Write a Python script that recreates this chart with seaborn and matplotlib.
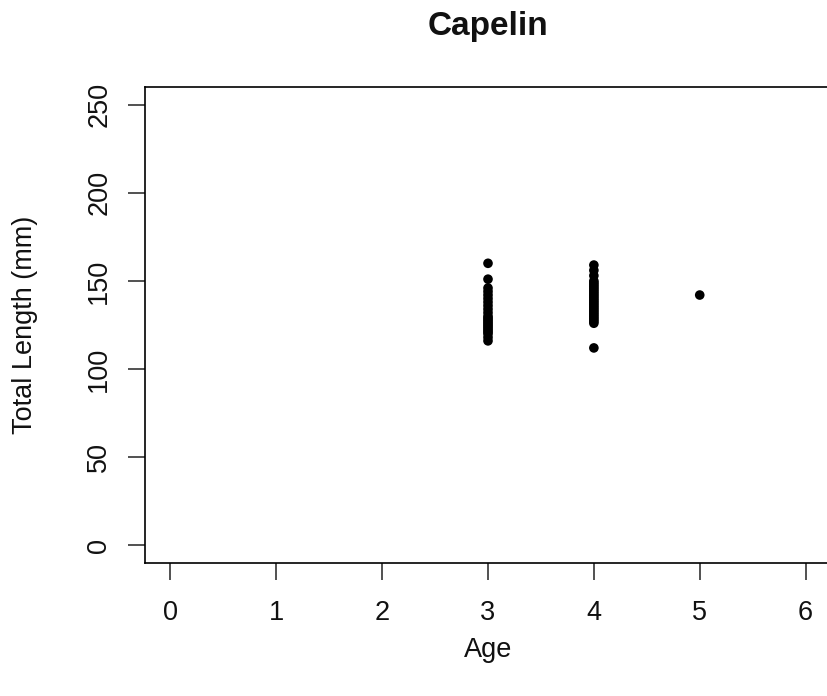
import matplotlib
matplotlib.use("Agg")
import matplotlib.pyplot as plt
import seaborn as sns
import pandas as pd

title = "Capelin"
x_label = "Age"
y_label = "Total Length (mm)"
x_ticks = [0, 1, 2, 3, 4, 5, 6]
y_ticks = [0, 50, 100, 150, 200, 250]

age3_lengths = [160, 151, 146, 144, 142, 140, 138, 136, 134, 132, 130, 129, 128,
                127, 126, 125, 124, 123, 122, 121, 120, 118, 116]
age4_lengths = [159, 156, 153, 150, 149, 148, 147, 146, 145, 144, 143, 142, 141,
                140, 139, 138, 137, 136, 135, 134, 133, 132, 131, 130, 129, 128,
                127, 126, 112]
age5_lengths = [142]

ages = [3] * len(age3_lengths) + [4] * len(age4_lengths) + [5] * len(age5_lengths)
lengths = age3_lengths + age4_lengths + age5_lengths
df = pd.DataFrame({"Age": ages, "Length": lengths})

sns.set_style("white")
plt.rcParams["font.family"] = ["Liberation Sans", "DejaVu Sans"]

W, H = 827, 696
fig = plt.figure(figsize=(W / 100, H / 100), dpi=100)
L, R, T, B = 145, 831, 87, 563
ax = fig.add_axes([L / W, (H - B) / H, (R - L) / W, (B - T) / H])

sns.scatterplot(data=df, x="Age", y="Length", ax=ax, color="black",
                s=48, edgecolor="none", linewidth=0, legend=False)

ax.set_xlim(-0.24, 6.24)
ax.set_ylim(-10, 260)
ax.set_xticks(x_ticks)
ax.set_yticks(y_ticks)
ax.set_xticklabels([str(t) for t in x_ticks])
ax.set_yticklabels([str(t) for t in y_ticks], rotation=90, va="center")

for sp in ["left", "top", "bottom", "right"]:
    ax.spines[sp].set_visible(True)
    ax.spines[sp].set_color("black")
    ax.spines[sp].set_linewidth(1.2)

fs = 19.5
ax.tick_params(axis="both", direction="out", length=12.5, width=1.2,
               color="#333333", labelsize=fs, labelcolor="#111111",
               bottom=True, left=True, top=False, right=False)
ax.tick_params(axis="x", pad=14)
ax.tick_params(axis="y", pad=11)

ax.set_xlabel(x_label, fontsize=fs, color="#111111")
ax.set_ylabel(y_label, fontsize=fs, color="#111111")
ax.xaxis.set_label_coords((488 - L) / (R - L), (B - 650) / (B - T))
ax.xaxis.label.set_va("center")
ax.yaxis.set_label_coords((25 - L) / (R - L), (B - 325) / (B - T))
ax.yaxis.label.set_va("center")

ax.set_title(title, fontsize=24, fontweight="bold", y=(B - 27) / (B - T),
             va="center", pad=0, color="#111111")

fig.savefig("out.png", dpi=100)
